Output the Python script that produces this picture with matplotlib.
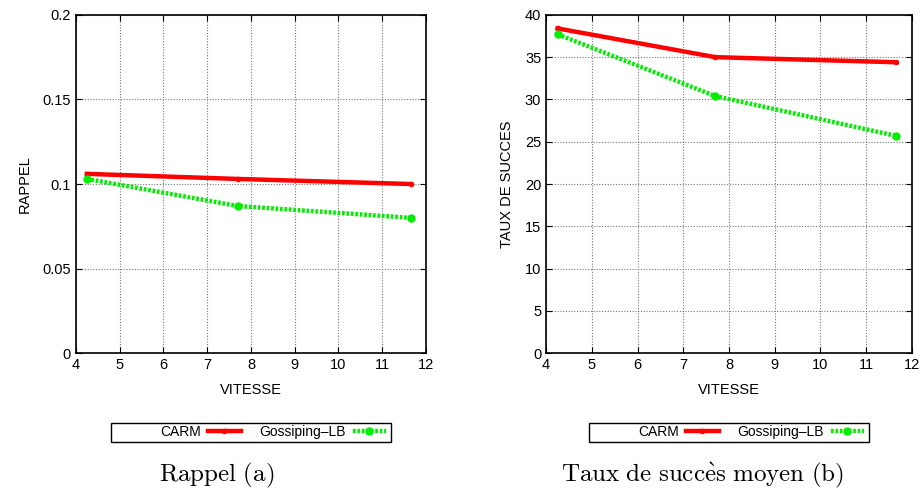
import numpy as np
import matplotlib.pyplot as plt
from matplotlib.patches import Rectangle

vitesse = [4.25, 7.7, 11.65]
rappel_carm = [0.106, 0.103, 0.100]
rappel_gossip = [0.103, 0.087, 0.080]
taux_carm = [38.4, 35.0, 34.4]
taux_gossip = [37.7, 30.4, 25.7]
labels = ['CARM', 'Gossiping\u2013LB']

plt.rcParams['font.family'] = ['Liberation Sans Narrow', 'Liberation Sans', 'DejaVu Sans']
plt.rcParams['mathtext.fontset'] = 'cm'

fig = plt.figure(figsize=(9.21, 4.96), dpi=100)
ax1 = fig.add_axes([0.0825, 0.288, 0.380, 0.682])
ax2 = fig.add_axes([0.593, 0.288, 0.397, 0.682])


def draw(ax, carm, gossip, ymax, ystep, ylabel, legx, boxx):
    ax.plot(vitesse, carm, color='#ff0000', lw=3.2, marker='o', ms=3, label=labels[0])
    ax.plot(vitesse, gossip, color='#00ee00', lw=3.2, ls=(0, (0.6, 0.4)), marker='o', ms=5,
            label=labels[1])
    ax.set_xlim(4, 12)
    ax.set_ylim(0, ymax)
    ax.set_xticks(np.arange(4, 13, 1))
    ax.set_yticks(np.arange(0, ymax + ystep / 2, ystep))
    ax.yaxis.set_major_formatter(plt.FuncFormatter(lambda v, p: ('%g' % round(v, 3))))
    ax.grid(True, color='#777777', ls=(0, (1, 1.5)), lw=0.8)
    ax.tick_params(direction='in', top=True, right=True, labelsize=10.5, length=4)
    for s in ax.spines.values():
        s.set_linewidth(1.2)
    ax.set_xlabel('VITESSE', fontsize=10.5, labelpad=8)
    ax.set_ylabel(ylabel, fontsize=10.5, labelpad=8)
    ax.legend(loc='center', bbox_to_anchor=(legx, 0.129), bbox_transform=fig.transFigure,
              ncol=2, markerfirst=False, fontsize=10, frameon=False,
              borderpad=0, handlelength=2.4, columnspacing=1.3,
              handletextpad=0.5, borderaxespad=0)
    fig.add_artist(Rectangle((boxx, 0.1089), 0.304, 0.0383, transform=fig.transFigure,
                             fill=False, edgecolor='black', lw=1.0))


draw(ax1, rappel_carm, rappel_gossip, 0.2, 0.05, 'RAPPEL', 0.2964, 0.1205)
draw(ax2, taux_carm, taux_gossip, 40, 5, 'TAUX DE SUCCES', 0.8154, 0.6395)

fig.text(0.2355, 0.042, r'$\mathrm{Rappel\ (a)}$', fontsize=18, ha='center', va='center')
fig.text(0.763, 0.042, r'$\mathrm{Taux\ de\ succ\grave{e}s\ moyen\ (b)}$', fontsize=18,
         ha='center', va='center')

fig.savefig('out.png', dpi=100)
